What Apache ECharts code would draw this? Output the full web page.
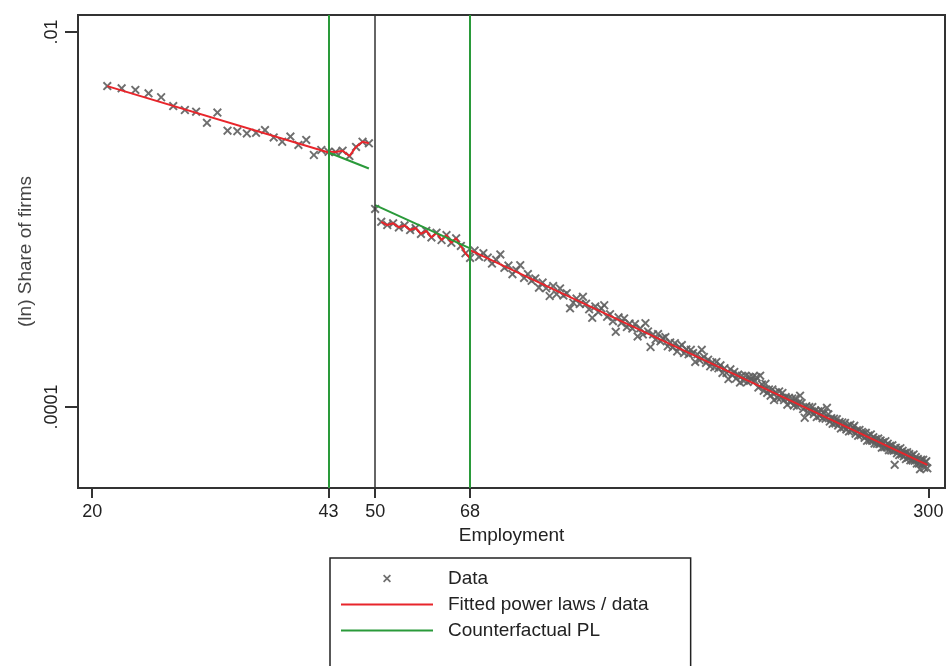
<!DOCTYPE html>
<html><head><meta charset="utf-8">
<script src="https://cdn.jsdelivr.net/npm/echarts@6/dist/echarts.min.js"></script>
<style>html,body{margin:0;padding:0;background:#fff}#c{width:947px;height:666px}</style>
</head><body><div id="c"></div>
<script>
// ---------- DATA ----------
const firstSize = 21;               // employment of the first data point
// share of firms, employment 21..49
const sharesBelow50 = [
  5.15e-3, 5.01e-3, 4.91e-3, 4.71e-3, 4.49e-3, 4.03e-3, 3.84e-3, 3.76e-3, 3.28e-3, 3.72e-3,
  2.98e-3, 2.96e-3, 2.88e-3, 2.90e-3, 3.00e-3, 2.74e-3, 2.60e-3, 2.77e-3, 2.50e-3, 2.66e-3,
  2.21e-3, 2.35e-3, 2.30e-3, 2.29e-3, 2.33e-3, 2.18e-3, 2.44e-3, 2.60e-3, 2.55e-3
];
// employment 50..68
const shares50to68 = [
  1.14e-3,
  9.73e-4, 9.35e-4, 9.55e-4, 9.08e-4, 9.31e-4, 8.79e-4, 9.01e-4, 8.38e-4, 8.71e-4,
  8.03e-4, 8.51e-4, 7.78e-4, 8.26e-4, 7.51e-4, 7.94e-4, 7.23e-4, 6.61e-4, 6.24e-4
];
// employment 69..299
const sharesAbove68 = [
  6.83e-4, 6.33e-4, 6.62e-4, 6.27e-4, 5.82e-4, 6.10e-4, 6.52e-4, 5.53e-4, 5.68e-4, 5.11e-4,
  5.37e-4, 5.71e-4, 4.88e-4, 5.12e-4, 4.71e-4, 4.85e-4, 4.33e-4, 4.61e-4, 4.30e-4, 3.91e-4,
  4.42e-4, 4.00e-4, 4.29e-4, 3.93e-4, 4.05e-4, 3.36e-4, 3.60e-4, 3.79e-4, 3.54e-4, 3.87e-4,
  3.56e-4, 3.32e-4, 2.99e-4, 3.44e-4, 3.21e-4, 3.36e-4, 3.49e-4, 3.03e-4, 3.13e-4, 2.87e-4,
  2.52e-4, 3.01e-4, 2.81e-4, 2.97e-4, 2.67e-4, 2.79e-4, 2.62e-4, 2.77e-4, 2.38e-4, 2.63e-4,
  2.44e-4, 2.80e-4, 2.53e-4, 2.09e-4, 2.44e-4, 2.29e-4, 2.45e-4, 2.24e-4, 2.33e-4, 2.36e-4,
  2.11e-4, 2.21e-4, 2.08e-4, 2.19e-4, 1.98e-4, 2.09e-4, 2.14e-4, 1.94e-4, 2.03e-4, 1.91e-4,
  2.02e-4, 1.94e-4, 1.74e-4, 1.91e-4, 1.78e-4, 2.02e-4, 1.85e-4, 1.72e-4, 1.79e-4, 1.65e-4,
  1.73e-4, 1.63e-4, 1.74e-4, 1.61e-4, 1.67e-4, 1.52e-4, 1.61e-4, 1.52e-4, 1.41e-4, 1.59e-4,
  1.48e-4, 1.54e-4, 1.42e-4, 1.49e-4, 1.35e-4, 1.47e-4, 1.38e-4, 1.47e-4, 1.36e-4, 1.45e-4,
  1.40e-4, 1.45e-4, 1.38e-4, 1.44e-4, 1.27e-4, 1.47e-4, 1.32e-4, 1.22e-4, 1.33e-4, 1.19e-4,
  1.24e-4, 1.15e-4, 1.24e-4, 1.09e-4, 1.20e-4, 1.12e-4, 1.21e-4, 1.12e-4, 1.19e-4, 1.09e-4,
  1.13e-4, 1.03e-4, 1.12e-4, 1.06e-4, 1.11e-4, 1.02e-4, 1.11e-4, 1.01e-4, 1.05e-4, 1.15e-4,
  1.05e-4, 9.75e-5, 8.77e-5, 1.01e-4, 9.41e-5, 1.00e-4, 9.44e-5, 1.00e-4, 9.18e-5, 9.57e-5,
  8.84e-5, 9.49e-5, 8.96e-5, 9.61e-5, 8.72e-5, 9.28e-5, 8.67e-5, 9.91e-5, 9.14e-5, 8.37e-5,
  8.72e-5, 8.14e-5, 8.67e-5, 8.18e-5, 8.62e-5, 7.97e-5, 8.32e-5, 7.69e-5, 8.27e-5, 7.80e-5,
  8.22e-5, 7.60e-5, 7.93e-5, 7.41e-5, 8.04e-5, 7.45e-5, 7.78e-5, 7.94e-5, 7.21e-5, 7.52e-5,
  7.03e-5, 7.55e-5, 7.07e-5, 7.37e-5, 7.25e-5, 6.85e-5, 7.29e-5, 6.61e-5, 7.04e-5, 6.64e-5,
  7.14e-5, 6.62e-5, 6.91e-5, 6.39e-5, 6.75e-5, 6.37e-5, 6.79e-5, 6.35e-5, 6.63e-5, 6.07e-5,
  6.48e-5, 6.11e-5, 6.57e-5, 6.10e-5, 6.37e-5, 5.89e-5, 6.22e-5, 5.87e-5, 6.25e-5, 5.85e-5,
  4.92e-5, 6.07e-5, 5.67e-5, 5.93e-5, 5.55e-5, 6.03e-5, 5.59e-5, 5.84e-5, 5.46e-5, 5.70e-5,
  5.28e-5, 5.74e-5, 5.37e-5, 5.61e-5, 5.20e-5, 5.49e-5, 5.19e-5, 5.59e-5, 5.17e-5, 5.41e-5,
  5.00e-5, 5.28e-5, 5.00e-5, 4.66e-5, 5.24e-5, 4.96e-5, 5.23e-5, 4.75e-5, 5.07e-5, 5.14e-5,
  4.71e-5
];
// fitted power laws (end points, straight in log-log)
const fitBelow = [[21, 5.15e-3], [43, 2.277e-3]];
const fitAbove = [[68, 6.87e-4], [299, 4.91e-5]];
// counterfactual power laws inside the bunching windows
const cfLeft = [[43, 2.277e-3], [49, 1.871e-3]];
const cfRight = [[50, 1.194e-3], [68, 7.015e-4]];
// windows where the red line follows the data
const leftWindow = [43, 49];
const rightWindow = [51, 68];
const thresholdLines = [43, 68];
const notchLine = 50;
const xTickValues = [20, 43, 50, 68, 300];
const yTickValues = [0.0001, 0.01];

// ---------- BUILD ----------
const shares = sharesBelow50.concat(shares50to68, sharesAbove68);
const points = shares.map((v, i) => [firstSize + i, v]);
const inRange = (r) => points.filter(p => p[0] >= r[0] && p[0] <= r[1]);

const FONT = 'Liberation Sans, Arial, sans-serif';
const RED = '#e8252b', GREEN = '#2a9a3a', GREY = '#5e5e5e';
const X_PATH = 'path://M0,1.5L1.5,0L5,3.5L8.5,0L10,1.5L6.5,5L10,8.5L8.5,10L5,6.5L1.5,10L0,8.5L3.5,5Z';

const redLine = (data) => ({
  type: 'line', name: 'Fitted power laws / data', data, symbol: 'none', z: 4,
  lineStyle: { color: RED, width: 2 }, itemStyle: { color: RED }
});
const greenLine = (data, extra) => Object.assign({
  type: 'line', name: 'Counterfactual PL', data, symbol: 'none', z: 4,
  lineStyle: { color: GREEN, width: 2 }, itemStyle: { color: GREEN }
}, extra || {});

const chart = echarts.init(document.getElementById('c'), null, { renderer: 'canvas' });
chart.setOption({
  animation: false,
  backgroundColor: '#fff',
  grid: { left: 78, right: 2, top: 15, bottom: 178, show: true, borderColor: '#333', borderWidth: 2 },
  xAxis: {
    type: 'log', logBase: 10, min: 19.1, max: 316.6,
    name: 'Employment', nameLocation: 'middle', nameGap: 29,
    nameTextStyle: { fontSize: 19, color: '#222', fontFamily: FONT },
    axisLine: { onZero: false, lineStyle: { color: '#333', width: 2 } },
    axisTick: { show: true, customValues: xTickValues, length: 10, lineStyle: { color: '#333', width: 2 } },
    axisLabel: { customValues: xTickValues, fontSize: 18, color: '#222', fontFamily: FONT, margin: 15,
      formatter: v => String(Math.round(v)) },
    splitLine: { show: false }, minorTick: { show: false }
  },
  yAxis: {
    type: 'log', logBase: 10, min: 3.70e-5, max: 1.233e-2,
    name: '(ln) Share of firms', nameLocation: 'middle', nameGap: 33,
    nameTextStyle: { fontSize: 19, color: '#444', fontFamily: FONT },
    axisLine: { onZero: false, lineStyle: { color: '#333', width: 2 } },
    axisTick: { show: true, customValues: yTickValues, length: 13, lineStyle: { color: '#333', width: 2 } },
    axisLabel: { customValues: yTickValues, rotate: 90, fontSize: 18, color: '#222', fontFamily: FONT, margin: 17,
      formatter: v => String(Number(v.toPrecision(6))).replace(/^0/, '') },
    splitLine: { show: false }, minorTick: { show: false }
  },
  legend: {
    orient: 'vertical', left: 330, top: 558, height: 300,
    padding: [11, 42, 60, 10],
    itemWidth: 92, itemHeight: 8, itemGap: 7,
    borderColor: '#222', borderWidth: 1.5, backgroundColor: '#fff',
    selectedMode: false,
    textStyle: { fontSize: 19, color: '#222', fontFamily: FONT, padding: [0, 0, 0, 10] },
    data: [
      { name: 'Data', icon: X_PATH, itemStyle: { color: GREY } },
      { name: 'Fitted power laws / data', itemStyle: { opacity: 0 } },
      { name: 'Counterfactual PL', itemStyle: { opacity: 0 } }
    ]
  },
  series: [
    {
      type: 'scatter', name: 'Data', data: points, symbol: X_PATH, symbolSize: 9, z: 3,
      itemStyle: { color: GREY, opacity: 0.9 },
      markLine: {
        silent: true, symbol: 'none', label: { show: false },
        lineStyle: { color: '#333', width: 1.5, type: 'solid' },
        data: [{ xAxis: notchLine }]
      }
    },
    redLine(fitBelow),
    redLine(inRange(leftWindow)),
    redLine(inRange(rightWindow)),
    redLine(fitAbove),
    greenLine(cfLeft, {
      markLine: {
        silent: true, symbol: 'none', label: { show: false },
        lineStyle: { color: GREEN, width: 2, type: 'solid' },
        data: thresholdLines.map(v => ({ xAxis: v }))
      }
    }),
    greenLine(cfRight)
  ]
});
</script>
</body></html>
